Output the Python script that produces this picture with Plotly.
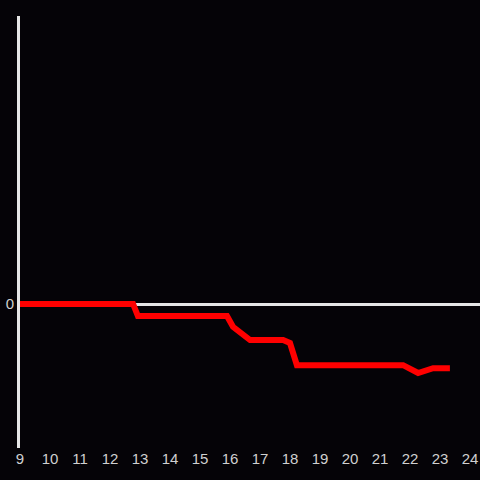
import plotly.graph_objects as go

hours = [9.0, 12.77, 12.93, 15.9, 16.1, 16.67, 17.77, 18.0, 18.23, 21.77, 22.27, 22.77, 23.33]
values = [0, 0, -1.0, -1.0, -1.9, -3.0, -3.0, -3.25, -5.1, -5.1, -5.75, -5.35, -5.35]
x_ticks = list(range(9, 25))

fig = go.Figure()
fig.add_trace(go.Scatter(x=hours, y=values, mode="lines",
                         line=dict(color="#ff0000", width=6), hoverinfo="skip"))

fig.update_layout(
    width=480, height=480,
    margin=dict(l=20, r=0, t=16, b=32),
    paper_bgcolor="#050307", plot_bgcolor="#050307",
    showlegend=False,
    font=dict(family="Liberation Sans, Arial, sans-serif", size=15, color="#d0d0d0"),
    xaxis=dict(range=[9, 9 + 460 / 30], tickvals=x_ticks, ticktext=[str(t) for t in x_ticks],
               showgrid=False, zeroline=False, showline=False, ticks=""),
    yaxis=dict(range=[-12, 24], tickvals=[0], showgrid=False,
               zeroline=True, zerolinecolor="#e6e6e6", zerolinewidth=3,
               showline=True, linecolor="#e6e6e6", linewidth=3, ticks=""),
)
fig.write_html("out.html", config={"displayModeBar": False},
               post_script="document.body.style.margin='0';document.body.style.overflow='hidden';")
